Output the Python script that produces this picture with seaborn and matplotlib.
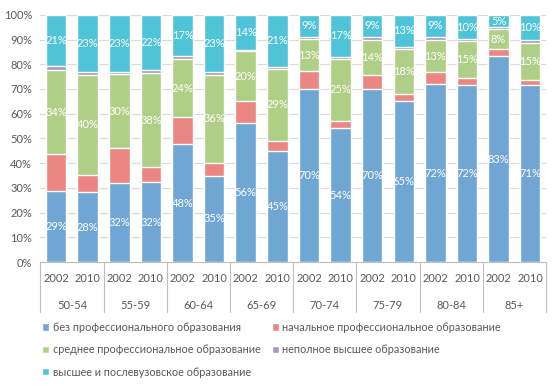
import numpy as np
import pandas as pd
import seaborn as sns
import matplotlib.pyplot as plt
from matplotlib.patches import Patch
import matplotlib.transforms as mtransforms

sns.set_style("white")
plt.rcParams['font.family'] = ['Lato', 'DejaVu Sans']

# данные
ages = ["50-54", "55-59", "60-64", "65-69", "70-74", "75-79", "80-84", "85+"]
years = ["2002", "2010"]
series = ["без профессионального образования",
          "начальное профессиональное образование",
          "среднее профессиональное образование",
          "неполное высшее образование",
          "высшее и послевузовское образование"]
no_prof = [29, 28, 32, 32, 48, 35, 56, 45, 70, 54, 70, 65, 72, 72, 83, 71]
initial = [15, 7, 14, 6, 11, 5, 9, 4, 7, 3, 6, 3, 5, 2.5, 3, 2]
secondary = [34, 40, 30, 38, 24, 36, 20, 29, 13, 25, 14, 18, 13, 15, 8, 15]
incomplete = [1.6, 1.2, 1, 1.2, 0.9, 1.2, 0.8, 0.8, 0.8, 0.8, 1.2, 0.8, 1.2, 0.8, 0.8, 1.3]
higher = [21, 23, 23, 22, 17, 23, 14, 21, 9, 17, 9, 13, 9, 10, 5, 10]
colors = ["#6FA6D4", "#EB8682", "#B0CF86", "#A995C4", "#4FC4D8"]
labeled = [True, False, True, False, True]

vals = np.array([no_prof, initial, secondary, incomplete, higher], dtype=float)
share = vals / vals.sum(axis=0) * 100
cum = share.cumsum(axis=0)

keys = [f"{a} {y}" for a in ages for y in years]

fig, ax = plt.subplots(figsize=(5.6, 3.9), dpi=100)
fig.subplots_adjust(left=0.072, right=0.975, top=0.962, bottom=0.328)

# рисуем накопленные суммы сверху вниз
for i in range(len(series) - 1, -1, -1):
    df = pd.DataFrame({"key": keys, "val": cum[i]})
    sns.barplot(data=df, x="key", y="val", order=keys, color=colors[i],
                width=0.65, saturation=1, ax=ax, zorder=2)

# подписи
for i in range(len(series)):
    if not labeled[i]:
        continue
    for j in range(len(keys)):
        mid = cum[i, j] - share[i, j] / 2
        ax.text(j, mid, f"{vals[i, j]:.0f}%", ha="center", va="center",
                color="white", fontsize=8, zorder=3)

ax.set_ylim(0, 100)
ax.set_xlim(-0.5, len(keys) - 0.5)
ax.set_yticks(np.arange(0, 101, 10))
ax.set_yticklabels([f"{t}%" for t in range(0, 101, 10)], fontsize=8, color="#595959")
ax.yaxis.grid(True, color="#D9D9D9", linewidth=0.8, zorder=0)
ax.set_axisbelow(True)
ax.set_xlabel("")
ax.set_ylabel("")
ax.tick_params(axis="y", length=0, pad=6)
ax.set_xticks(range(len(keys)))
ax.set_xticklabels(years * len(ages), fontsize=8, color="#595959")
ax.tick_params(axis="x", length=0, pad=8)
for s in ["left", "right", "top"]:
    ax.spines[s].set_visible(False)
ax.spines["bottom"].set_color("#BFBFBF")

# второй уровень категорий
trans = mtransforms.blended_transform_factory(ax.transData, ax.transAxes)
for k in range(len(ages) + 1):
    x = k * 2 - 0.5
    ax.plot([x, x], [0, -0.2], transform=trans, color="#BFBFBF",
            linewidth=0.8, clip_on=False)
for k, a in enumerate(ages):
    ax.text(k * 2 + 0.5, -0.175, a, transform=trans, ha="center", va="center",
            fontsize=8, color="#595959")

# легенда
order = [0, 2, 4, 1, 3]
handles = [Patch(facecolor=colors[i], label=series[i]) for i in order]
fig.legend(handles=handles, ncol=2, loc="upper left", bbox_to_anchor=(0.058, 0.2),
           frameon=False, fontsize=7.8, handlelength=0.65, handleheight=0.65,
           handletextpad=0.3, columnspacing=1.1, labelspacing=1.05,
           labelcolor="#595959")

plt.savefig("out.png", dpi=100)
